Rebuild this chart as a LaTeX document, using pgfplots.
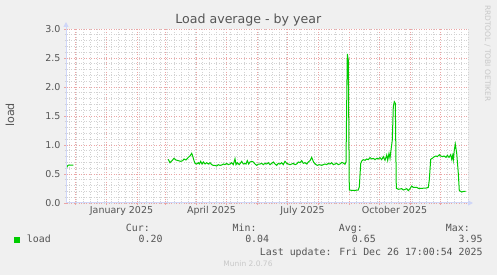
\documentclass[border=0pt]{standalone}
\usepackage{pgfplots}
\pgfplotsset{compat=1.18}
\usepackage{fontspec}
\setmainfont{DejaVu Sans}
\newfontfamily\monofont{DejaVu Sans Mono}
\usetikzlibrary{arrows.meta}
\definecolor{bg}{HTML}{F0F0F0}
\definecolor{txt}{HTML}{555555}
\definecolor{axc}{HTML}{CFD6F8}
\definecolor{mgrid}{RGB}{235,165,165}
\definecolor{ngrid}{RGB}{210,210,210}
\definecolor{munin}{HTML}{00CC00}
\definecolor{wm}{HTML}{C8C8C8}
\begin{document}
\begin{tikzpicture}[x=1pt,y=1pt]
\path[use as bounding box] (0,0) rectangle (497,275);
\fill[bg] (0,0) rectangle (497,275);
\begin{axis}[
  at={(66pt,72pt)}, anchor=south west,
  scale only axis, width=402pt, height=174pt,
  xmin=-40, xmax=362, ymin=0, ymax=3,
  axis line style={draw=none},
  axis background/.style={fill=white},
  xtick={-31,0,31,59,90,120,151,181,212,243,273,304,334},
  xticklabels={},
  minor xtick={-37,-30,...,362},
  extra x ticks={15.5,105.5,196.5,288.5},
  extra x tick labels={January 2025,April 2025,July 2025,October 2025},
  extra x tick style={grid=none, major tick length=0pt},
  ytick={0,0.5,...,3},
  minor y tick num=4,
  y tick label style={/pgf/number format/fixed,/pgf/number format/fixed zerofill,/pgf/number format/precision=1},
  /pgf/number format/assume math mode=true,
  grid=both,
  major grid style={mgrid, line width=0.6pt, dash pattern=on 1pt off 1.5pt},
  minor grid style={ngrid, line width=0.6pt, dash pattern=on 1pt off 1.5pt},
  tick align=center, tick pos=left,
  major tick length=4pt, minor tick length=3pt,
  major tick style={mgrid, line width=0.6pt},
  minor tick style={ngrid, line width=0.6pt},
  ticklabel style={font=\fontsize{9.5}{11}\selectfont, text=txt},
  clip=true,
]
\addplot[munin, line width=1pt] coordinates {
(-39.3,0.61) (-38.5,0.64) (-37.5,0.655) (-35,0.655) (-32.7,0.655)
};
\addplot[munin, line width=1pt] coordinates {
(62.3,0.753) (64.0,0.695) (65.7,0.724) (68.0,0.770) (70.0,0.741) (72.3,0.730)
(74.7,0.718) (76.7,0.730) (78.0,0.758) (80.0,0.741) (82.3,0.787) (84.0,0.810)
(85.7,0.856) (86.7,0.810) (88.0,0.730) (89.0,0.684) (90.7,0.672) (92.3,0.695)
(93.3,0.672) (94.7,0.718) (96.0,0.672) (97.3,0.707) (99.0,0.672) (100.7,0.695)
(102.3,0.672) (104.0,0.695) (105.7,0.661) (107.3,0.649) (109.0,0.649) (110.7,0.638)
(112.3,0.661) (114.0,0.649) (115.7,0.655) (117.3,0.672) (119.0,0.661) (120.7,0.684)
(122.3,0.661) (124.0,0.672) (125.7,0.695) (127.3,0.661) (129.0,0.764) (130.0,0.661)
(131.3,0.695) (133.3,0.661) (135.7,0.718) (137.3,0.672) (139.0,0.684) (140.0,0.672)
(141.3,0.730) (142.7,0.672) (144.0,0.707) (145.7,0.718) (147.3,0.707) (149.0,0.672)
(150.7,0.649) (152.3,0.672)
(154.0,0.672) (155.7,0.684) (157.3,0.661) (159.0,0.684) (160.7,0.672) (162.3,0.695)
(164.0,0.661) (165.7,0.684) (167.3,0.707) (169.0,0.672) (170.7,0.649) (172.3,0.684)
(174.0,0.672) (175.7,0.695) (177.3,0.661) (179.0,0.718) (180.7,0.684) (182.3,0.672)
(184.0,0.661) (185.7,0.672) (187.3,0.684) (189.0,0.661) (190.7,0.672) (192.3,0.707)
(194.0,0.695) (195.7,0.730) (197.3,0.684) (199.0,0.695) (200.7,0.672) (202.3,0.707)
(204.0,0.730) (205.7,0.787) (206.7,0.741) (208.0,0.695) (210.0,0.661) (211.3,0.649)
(213.3,0.661) (215.7,0.649) (217.3,0.661) (219.0,0.672) (220.7,0.661) (222.3,0.684)
(224.0,0.672) (225.7,0.695) (227.3,0.661) (229.0,0.672) (230.7,0.684) (232.3,0.661)
(234.0,0.672) (235.7,0.700) (237.3,0.690) (239.0,0.667) (240.0,0.707)
(241.3,2.569) (242.3,2.466) (243.3,0.224) (245.7,0.218) (249.0,0.218) (252.3,0.224)
(253.3,0.280) (254.7,0.678) (255.7,0.724) (257.3,0.747) (259.0,0.736) (260.7,0.759)
(262.3,0.747) (264.0,0.782) (265.7,0.759) (267.3,0.770) (269.0,0.747) (270.7,0.770)
(272.3,0.759) (274.0,0.782) (275.7,0.747) (277.3,0.799) (279.0,0.736) (280.7,0.828)
(281.7,0.736) (283.0,0.856) (284.0,0.770) (285.0,0.914) (286.3,1.086) (287.3,1.661)
(288.3,1.747) (289.3,1.718) (290.3,0.253) (292.3,0.236) (295.7,0.247) (297.3,0.224)
(300.7,0.247) (302.3,0.213) (304.0,0.247) (305.7,0.293) (307.3,0.270) (310.7,0.270)
(312.3,0.253) (315.7,0.253) (320.7,0.259) (322.3,0.270) (323.3,0.397) (324.7,0.753)
(326.7,0.776) (328.3,0.799) (330.0,0.810) (331.3,0.799) (333.3,0.833) (334.7,0.810)
(336.7,0.799) (338.0,0.810) (340.0,0.787) (341.3,0.822) (343.0,0.787) (344.7,0.833)
(345.7,0.753) (346.7,0.822) (347.3,0.741) (348.3,0.914) (349.3,1.017) (350.7,0.856)
(352.3,0.511) (353.3,0.213) (355.7,0.190) (358.0,0.201) (359.7,0.201)
};
\end{axis}
\draw[axc, line width=1pt, -{Triangle[length=5pt,width=5pt]}] (66,72) -- (66,253);
\draw[axc, line width=1pt, -{Triangle[length=5pt,width=5pt]}] (66,72) -- (473,72);
% title and labels
\node[anchor=base, font=\fontsize{12.6}{14}\selectfont, text=txt] at (248.3,251.7) {Load average - by year};
\node[anchor=base, rotate=90, font=\fontsize{11.1}{13}\selectfont, text=txt] at (14,160) {load};
\node[anchor=base, rotate=-90, font=\fontsize{7.5}{9}\selectfont, text=wm] at (485,221.5) {RRDTOOL / TOBI OETIKER};
% legend
\begin{scope}[every node/.style={font=\monofont\fontsize{9.9}{11}\selectfont, text=txt, inner sep=0pt}]
\node[anchor=base east] at (150,43.7) {Cur:};
\node[anchor=base east] at (256.7,43.7) {Min:};
\node[anchor=base east] at (363,43.7) {Avg:};
\node[anchor=base east] at (470,43.7) {Max:};
\node[anchor=base west] at (26.7,32.1) {load};
\node[anchor=base east] at (162.7,32.1) {0.20};
\node[anchor=base east] at (269.3,32.1) {0.04};
\node[anchor=base east] at (376,32.1) {0.65};
\node[anchor=base east] at (482.7,32.1) {3.95};
\node[anchor=base east] at (482.7,19.7) {Last update: Fri Dec 26 17:00:54 2025};
\end{scope}
\fill[munin] (14,32.3) rectangle (20,37.7);
\node[anchor=base, font=\fontsize{7.5}{9}\selectfont, text=wm] at (248,8.3) {Munin 2.0.76};
\end{tikzpicture}
\end{document}
